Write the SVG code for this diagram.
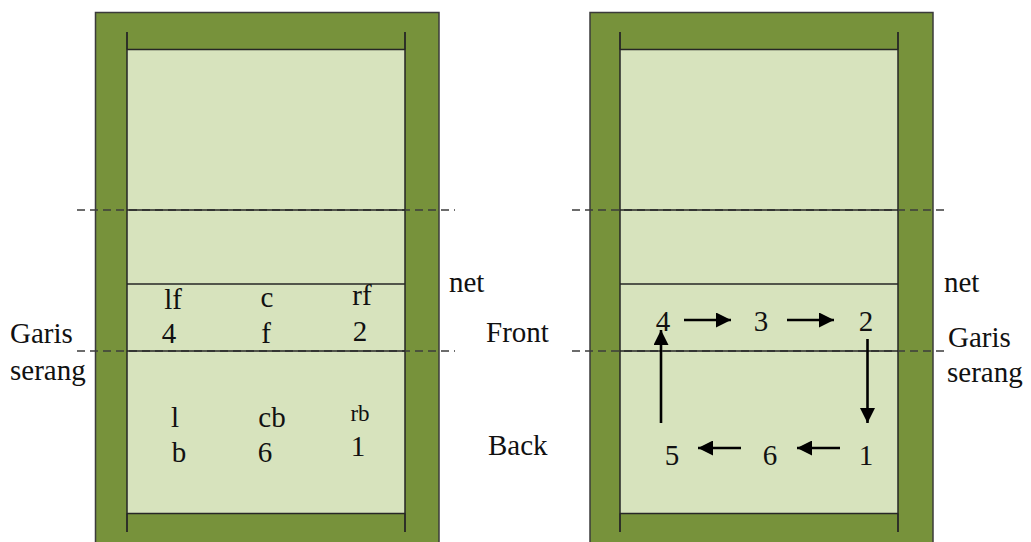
<svg xmlns="http://www.w3.org/2000/svg" width="1031" height="542" viewBox="0 0 1031 542">
<style>
.outer{fill:#77923b;stroke:#3b3b3b;stroke-width:1.5}
.inner{fill:#d7e3bd;stroke:#262626;stroke-width:1.5}
.tick{stroke:#262626;stroke-width:1.8}
.dash{stroke:#3d3d3d;stroke-width:1.6;stroke-dasharray:8 5}
.solid{stroke:#262626;stroke-width:1.5}
.t{font-family:'Liberation Serif','DejaVu Serif',serif;font-size:29px;fill:#111}
.c{text-anchor:middle}
.sm{font-size:23px}
.arr{stroke:#000;stroke-width:2.6;fill:none;marker-end:url(#ah)}
</style>
<defs>
<marker id="ah" markerUnits="userSpaceOnUse" markerWidth="15" markerHeight="15" refX="15" refY="7.5" orient="auto" viewBox="0 0 15 15">
<path d="M0,0 L15,7.5 L0,15 z" fill="#000"/>
</marker>
</defs>
<rect width="1031" height="542" fill="#fff"/>

<g id="court-left">
<rect class="outer" x="95.5" y="12.5" width="343.5" height="540"/>
<rect class="inner" x="127" y="49.5" width="278" height="464"/>
<line class="tick" x1="127" y1="32" x2="127" y2="49.5"/>
<line class="tick" x1="405" y1="32" x2="405" y2="49.5"/>
<line class="tick" x1="127" y1="513.5" x2="127" y2="532"/>
<line class="tick" x1="405" y1="513.5" x2="405" y2="532"/>
<line class="dash" x1="77" y1="210" x2="455" y2="210"/>
<line class="solid" x1="127" y1="210" x2="405" y2="210"/>
<line class="solid" x1="127" y1="284" x2="405" y2="284"/>
<line class="dash" x1="77" y1="351" x2="455" y2="351"/>
<line class="solid" x1="127" y1="351" x2="405" y2="351"/>
</g>

<g id="positions-left" font-family="Liberation Serif, DejaVu Serif, serif">
<text class="t c" x="173" y="309">lf</text>
<text class="t c" x="267" y="307">c</text>
<text class="t c" x="362" y="305">rf</text>
<text class="t c" x="169" y="343">4</text>
<text class="t c" x="266" y="343">f</text>
<text class="t c" x="360" y="341">2</text>
<text class="t c" x="175" y="427">l</text>
<text class="t c" x="272" y="427">cb</text>
<text class="t c sm" x="360" y="421">rb</text>
<text class="t c" x="179" y="462">b</text>
<text class="t c" x="265" y="462">6</text>
<text class="t c" x="358" y="456">1</text>
</g>

<g id="labels-left" font-family="Liberation Serif, DejaVu Serif, serif">
<text class="t" x="10" y="343">Garis</text>
<text class="t" x="10" y="380">serang</text>
<text class="t" x="449" y="292">net</text>
<text class="t" x="486" y="342">Front</text>
<text class="t" x="488" y="455">Back</text>
</g>

<g id="court-right">
<rect class="outer" x="590" y="12.5" width="343" height="540"/>
<rect class="inner" x="620" y="49.5" width="278" height="464"/>
<line class="tick" x1="620" y1="32" x2="620" y2="49.5"/>
<line class="tick" x1="898" y1="32" x2="898" y2="49.5"/>
<line class="tick" x1="620" y1="513.5" x2="620" y2="532"/>
<line class="tick" x1="898" y1="513.5" x2="898" y2="532"/>
<line class="dash" x1="572" y1="210" x2="949" y2="210"/>
<line class="solid" x1="620" y1="210" x2="898" y2="210"/>
<line class="solid" x1="620" y1="284" x2="898" y2="284"/>
<line class="dash" x1="572" y1="351" x2="949" y2="351"/>
<line class="solid" x1="620" y1="351" x2="898" y2="351"/>
</g>

<g id="positions-right" font-family="Liberation Serif, DejaVu Serif, serif">
<text class="t c" x="663" y="331">4</text>
<text class="t c" x="761" y="331">3</text>
<text class="t c" x="866" y="331">2</text>
<text class="t c" x="672" y="465">5</text>
<text class="t c" x="770" y="465">6</text>
<text class="t c" x="866" y="465">1</text>
</g>

<g id="labels-right" font-family="Liberation Serif, DejaVu Serif, serif">
<text class="t" x="944" y="292">net</text>
<text class="t" x="948" y="347">Garis</text>
<text class="t" x="947" y="382">serang</text>
</g>

<g id="connectors">
<line class="arr" x1="684" y1="320" x2="731" y2="320"/>
<line class="arr" x1="787" y1="320" x2="834" y2="320"/>
<line class="arr" x1="867.5" y1="339" x2="867.5" y2="423"/>
<line class="arr" x1="840" y1="448" x2="797" y2="448"/>
<line class="arr" x1="741" y1="448" x2="698" y2="448"/>
<line class="arr" x1="661" y1="423" x2="661" y2="330"/>
</g>
</svg>
